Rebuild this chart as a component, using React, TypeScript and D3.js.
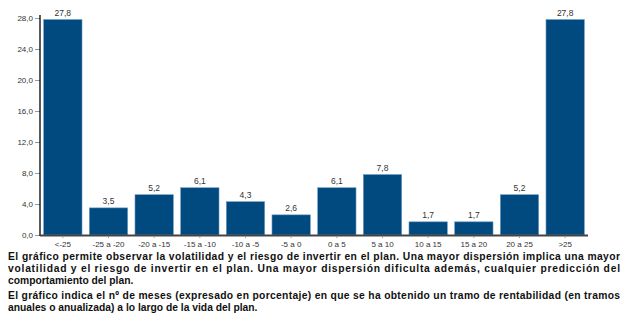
import * as d3 from "d3";
import React, { useRef, useEffect } from "react";

const categories = ["<-25", "-25 a -20", "-20 a -15", "-15 a -10", "-10 a -5", "-5 a 0", "0 a 5", "5 a 10", "10 a 15", "15 a 20", "20 a 25", ">25"];
const values = [27.8, 3.5, 5.2, 6.1, 4.3, 2.6, 6.1, 7.8, 1.7, 1.7, 5.2, 27.8];
const yTicks = [0, 4, 8, 12, 16, 20, 24, 28];

const notes = [
  { text: "El gráfico permite observar la volatilidad y el riesgo de invertir en el plan. Una mayor dispersión implica una mayor", justify: true, gap: 0 },
  { text: "volatilidad y el riesgo de invertir en el plan. Una mayor dispersión dificulta además, cualquier predicción del", justify: true, gap: 0 },
  { text: "comportamiento del plan.", justify: false, gap: 0 },
  { text: "El gráfico indica el nº de meses (expresado en porcentaje) en que se ha obtenido un tramo de rentabilidad (en tramos", justify: true, gap: 3 },
  { text: "anuales o anualizada) a lo largo de la vida del plan.", justify: false, gap: 0 },
];

const W = 628;
const H = 316;
const left = 40;
const right = 588;
const top = 18;
const bottom = 235;

const fmt = (v: number) => d3.format(".1f")(v).replace(".", ",");

export default function App() {
  const ref = useRef<SVGSVGElement>(null);

  useEffect(() => {
    const svg = d3.select(ref.current);
    svg.selectAll("*").remove();

    const x = d3.scaleBand().domain(categories).range([left, right]).paddingInner(0.16).paddingOuter(0.08);
    const y = d3.scaleLinear().domain([0, 28]).range([bottom, top]);

    // y axis
    const yAxis = svg
      .append("g")
      .attr("transform", `translate(${left},0)`)
      .call(d3.axisLeft(y).tickValues(yTicks).tickFormat((d) => fmt(d as number)).tickSize(5).tickPadding(2));
    yAxis.select(".domain").remove();
    yAxis.selectAll(".tick line").attr("stroke", "#999");
    yAxis.selectAll(".tick text").attr("fill", "#333").style("font", "8px Arial, 'Liberation Sans', sans-serif");

    // bars
    svg
      .selectAll("rect.bar")
      .data(values)
      .enter()
      .append("rect")
      .attr("class", "bar")
      .attr("x", (d, i) => x(categories[i])!)
      .attr("y", (d) => y(d))
      .attr("width", x.bandwidth())
      .attr("height", (d) => bottom - y(d))
      .attr("fill", "#004a80")
      .attr("stroke", "#6f9cc4")
      .attr("stroke-width", 0.6);

    // value labels
    svg
      .selectAll("text.val")
      .data(values)
      .enter()
      .append("text")
      .attr("class", "val")
      .attr("x", (d, i) => x(categories[i])! + x.bandwidth() / 2)
      .attr("y", (d) => y(d) - 4)
      .attr("text-anchor", "middle")
      .attr("fill", "#333")
      .style("font", "8.5px Arial, 'Liberation Sans', sans-serif")
      .text((d) => fmt(d));

    // axis lines
    svg.append("line").attr("x1", left).attr("x2", left).attr("y1", top - 3).attr("y2", bottom + 1).attr("stroke", "#000").attr("stroke-width", 1.3);
    svg.append("line").attr("x1", left).attr("x2", right).attr("y1", bottom + 0.5).attr("y2", bottom + 0.5).attr("stroke", "#444").attr("stroke-width", 2);

    // x labels
    const xAxis = svg
      .append("g")
      .attr("transform", `translate(0,${bottom + 1})`)
      .call(d3.axisBottom(x).tickSize(2).tickPadding(3));
    xAxis.select(".domain").remove();
    xAxis.selectAll(".tick line").attr("stroke", "#999");
    xAxis.selectAll(".tick text").attr("fill", "#333").style("font", "8px Arial, 'Liberation Sans', sans-serif");

    // notes
    let yy = 260;
    notes.forEach((n) => {
      yy += n.gap;
      const t = svg
        .append("text")
        .attr("x", 8)
        .attr("y", yy)
        .attr("fill", "#111")
        .style("font", "bold 10.3px Arial, 'Liberation Sans', sans-serif")
        .text(n.text);
      if (n.justify) t.attr("textLength", 612).attr("lengthAdjust", "spacing");
      yy += 12;
    });
  }, []);

  return (
    <svg ref={ref} width={W} height={H} style={{ position: "absolute", left: 0, top: 0, background: "#fff" }} />
  );
}
